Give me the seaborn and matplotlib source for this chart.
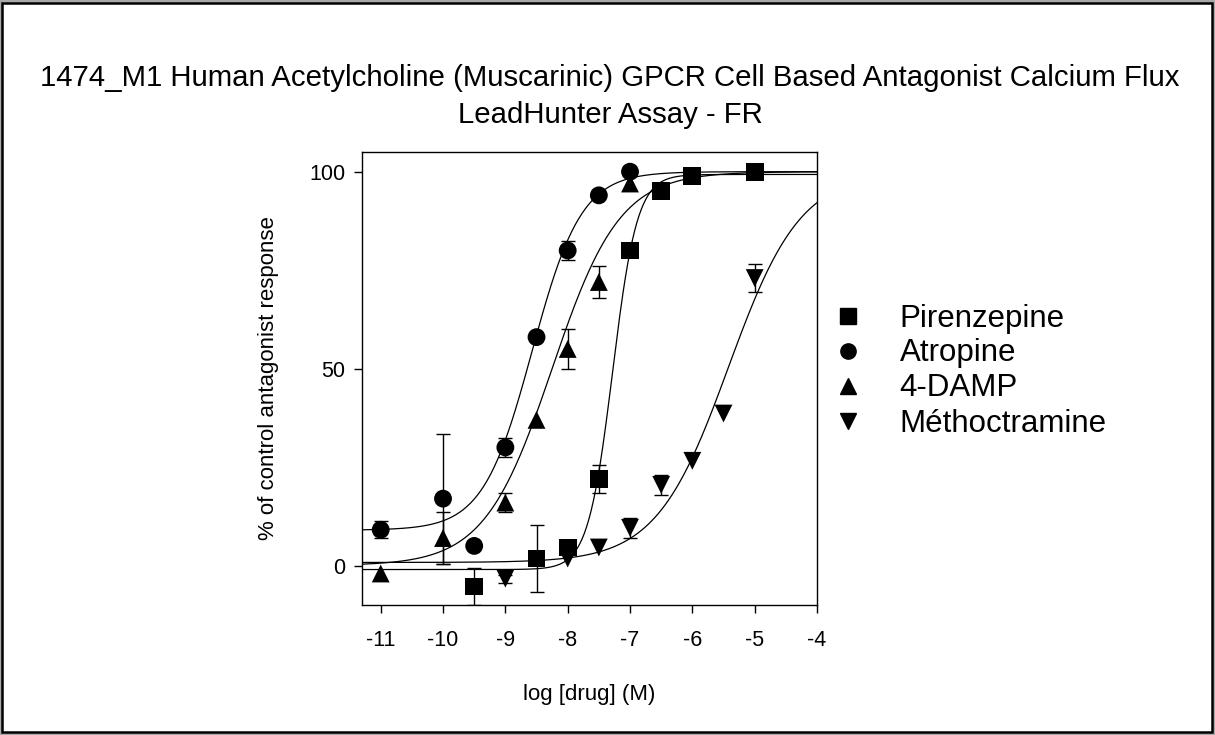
import numpy as np
import pandas as pd
import matplotlib
matplotlib.use("Agg")
import matplotlib.pyplot as plt
import seaborn as sns
from matplotlib.patches import Rectangle
from matplotlib.lines import Line2D

sns.set_theme(style="white")
plt.rcParams['font.family'] = ['Liberation Sans', 'DejaVu Sans']
plt.rcParams.update({"text.color": "black", "axes.labelcolor": "black",
                     "xtick.color": "black", "ytick.color": "black"})

# ---- data ----
drugs = ["Pirenzepine", "Atropine", "4-DAMP", "Méthoctramine"]

pir_x = [-9.5, -8.5, -8.0, -7.5, -7.0, -6.5, -6.0, -5.0]
pir_y = [-5.3, 1.8, 4.6, 22.0, 80.0, 95.0, 99.0, 100.0]
pir_e = [4.6, 8.5, 0.0, 3.5, 0.0, 0.0, 0.0, 0.0]

atr_x = [-11.0, -10.0, -9.5, -9.0, -8.5, -8.0, -7.5, -7.0]
atr_y = [9.1, 17.0, 5.0, 30.0, 58.0, 80.0, 94.0, 100.0]
atr_e = [2.2, 16.5, 0.0, 2.5, 0.0, 2.5, 0.0, 0.0]

damp_x = [-11.0, -10.0, -9.0, -8.5, -8.0, -7.5, -7.0]
damp_y = [-2.0, 7.0, 16.0, 37.0, 55.0, 72.0, 97.0]
damp_e = [0.0, 6.5, 2.5, 0.0, 5.0, 4.0, 0.0]

meth_x = [-9.0, -8.0, -7.5, -7.0, -6.5, -6.0, -5.5, -5.0]
meth_y = [-3.3, 1.8, 4.6, 9.6, 20.5, 26.6, 38.6, 73.0]
meth_e = [1.0, 0.0, 0.0, 2.5, 2.5, 0.0, 0.0, 3.5]

# four-parameter logistic fit parameters: bottom, top, logIC50, hill
fit_bottom = [-1.0, 9.0, 0.0, 0.8]
fit_top = [99.3, 100.0, 100.0, 100.0]
fit_logic50 = [-7.28, -8.57, -8.25, -5.42]
fit_hill = [2.2, 1.1, 0.8, 0.75]

tick_x = [-11, -10, -9, -8, -7, -6, -5, -4]
tick_y = [0, 50, 100]

markers = {"Pirenzepine": "s", "Atropine": "o", "4-DAMP": "^", "Méthoctramine": "v"}

# ---- build tables ----
series = [(pir_x, pir_y, pir_e), (atr_x, atr_y, atr_e), (damp_x, damp_y, damp_e), (meth_x, meth_y, meth_e)]
pts = pd.concat([pd.DataFrame({"x": s[0], "y": s[1], "err": s[2], "drug": d}) for d, s in zip(drugs, series)],
                ignore_index=True)

xs = np.linspace(-11.3, -4.0, 400)
curves = []
for d, b, t, c, h in zip(drugs, fit_bottom, fit_top, fit_logic50, fit_hill):
    curves.append(pd.DataFrame({"x": xs, "y": b + (t - b) / (1 + 10 ** (h * (c - xs))), "drug": d}))
curves = pd.concat(curves, ignore_index=True)

W, H = 1215, 735
fig = plt.figure(figsize=(W / 100, H / 100), dpi=100)
fig.patch.set_facecolor("#a8a8a8")
# white page with black frame
fig.add_artist(Rectangle((1.5 / W, 3 / H), (W - 4.5) / W, (H - 6) / H, transform=fig.transFigure,
                         facecolor="white", edgecolor="black", lw=1.8, zorder=0))

ax = fig.add_axes([362 / W, 1 - 605 / H, (817 - 362) / W, (605 - 152) / H])
ax.set_facecolor("white")

sns.lineplot(data=curves, x="x", y="y", units="drug", estimator=None, color="black", lw=0.9, ax=ax, legend=False)

for d in drugs:
    sub = pts[(pts.drug == d) & (pts.err > 0)]
    ax.errorbar(sub.x, sub.y, yerr=sub.err, fmt="none", ecolor="black", elinewidth=1.0, capsize=5, capthick=1.0,
                zorder=2)

sns.scatterplot(data=pts, x="x", y="y", style="drug", markers=markers, style_order=drugs, color="black", s=165,
                edgecolor="black", linewidth=0, ax=ax, zorder=3, legend=False)

ax.set_xlim(-11.3, -4.0)
ax.set_ylim(-10, 105)
ax.set_xticks(tick_x)
ax.set_xticklabels([str(v) for v in tick_x])
ax.set_yticks(tick_y)
ax.set_yticklabels([str(v) for v in tick_y])
ax.tick_params(axis="both", direction="out", length=6, width=1, color="black", labelsize=15.5, pad=12,
               bottom=True, left=True, labelcolor="black")
ax.tick_params(axis="y", pad=6)
for sp in ax.spines.values():
    sp.set_color("black")
    sp.set_linewidth(1.0)
ax.set_xlabel("log [drug] (M)", fontsize=16, labelpad=24, color="black")
ax.set_ylabel("% of control antagonist response", fontsize=16, labelpad=22, color="black")

fig.text(0.502, 1 - 78 / H, "1474_M1 Human Acetylcholine (Muscarinic) GPCR Cell Based Antagonist Calcium Flux",
         ha="center", va="center", fontsize=21.2, color="black")
fig.text(0.502, 1 - 115 / H, "LeadHunter Assay - FR", ha="center", va="center", fontsize=21.2, color="black")

# legend
handles = [Line2D([], [], ls="none", marker=markers[d], color="black", markersize=11) for d in drugs]
leg = fig.legend(handles, drugs, loc="upper left", bbox_to_anchor=(812 / W, 1 - 291 / H), frameon=False,
                 fontsize=22.5, handletextpad=0.9, labelspacing=0.16, handlelength=1.5, borderaxespad=0)
for t in leg.get_texts():
    t.set_color("black")

fig.savefig("out.png", dpi=100, facecolor=fig.get_facecolor())
